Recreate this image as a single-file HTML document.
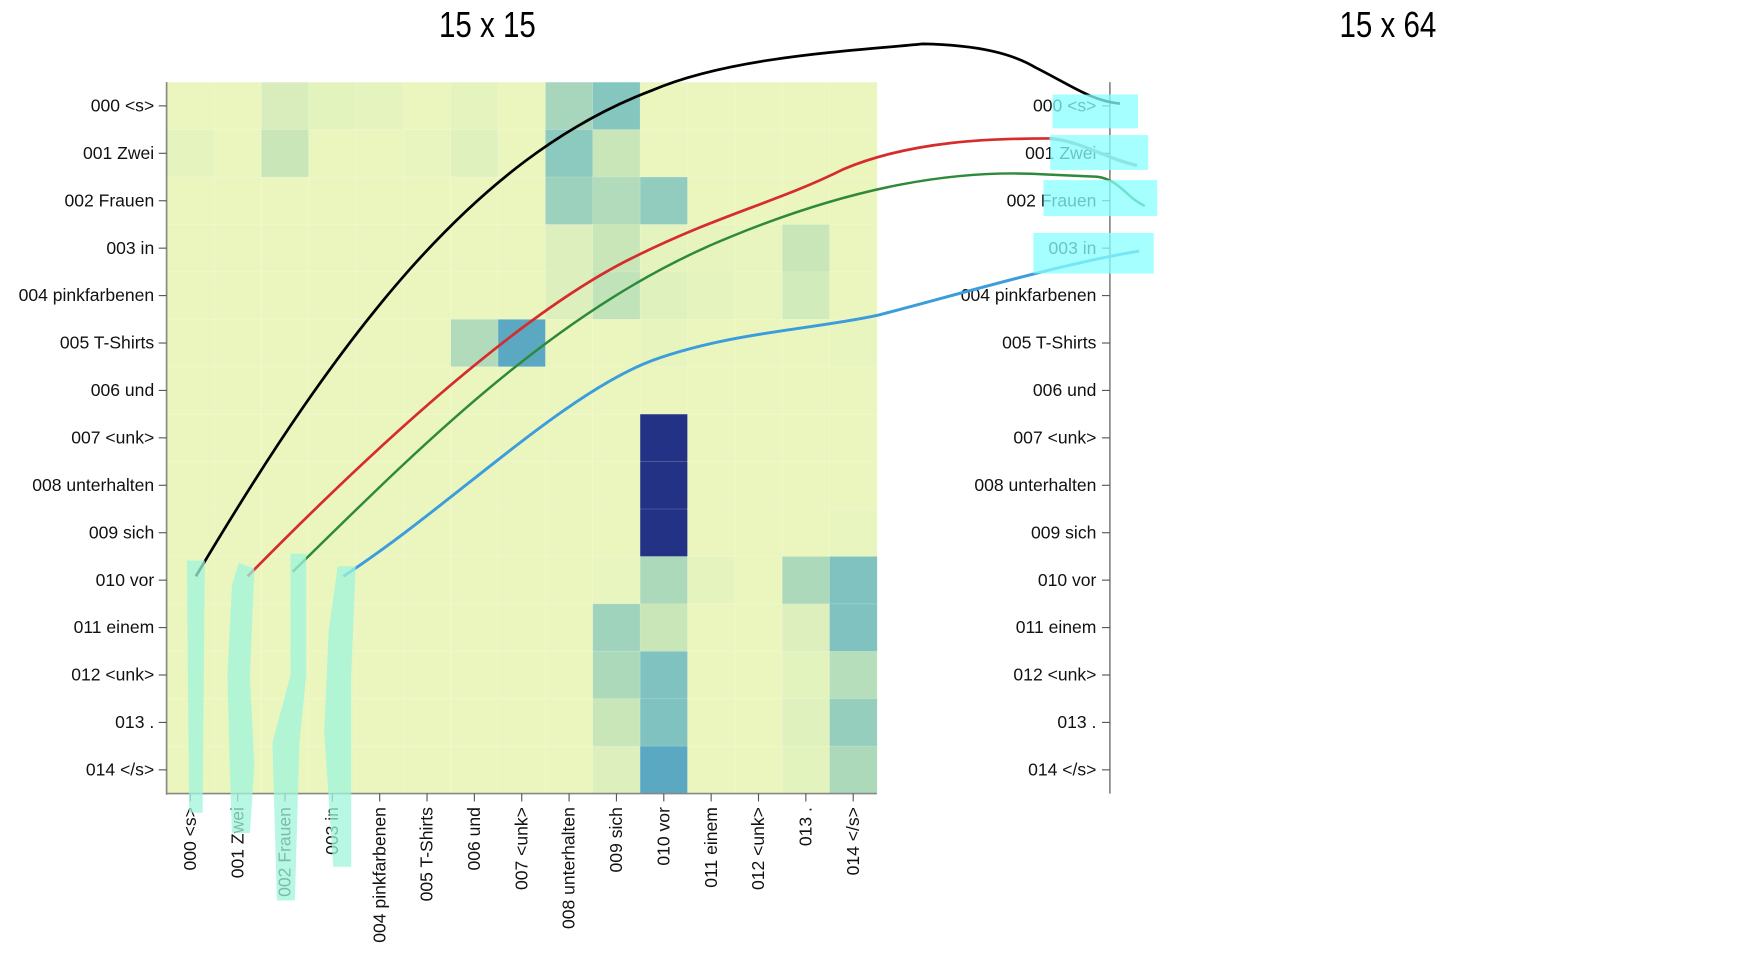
<!DOCTYPE html>
<html><head><meta charset="utf-8"><style>
html,body{margin:0;padding:0;background:#fff}
svg{display:block}
text{font-family:"Liberation Sans",sans-serif;font-size:15.6px;fill:#111}
.title{font-size:32px;fill:#000}
</style></head><body>
<svg id="chart" width="1756" height="956" viewBox="0 0 1560 849.3" xmlns="http://www.w3.org/2000/svg">
<text class="title" x="433" y="33" text-anchor="middle" transform="translate(433 0) scale(0.82 1) translate(-433 0)">15 x 15</text>
<text class="title" x="1233" y="33" text-anchor="middle" transform="translate(1233 0) scale(0.82 1) translate(-1233 0)">15 x 64</text>
<g id="cells"></g>
<g id="axes"></g>
<g id="curves">
<path d="M174,512 C300,300 420,140 580,80 C650,50 760,45 820,39 C870,40 900,48 920,60 C950,75 970,90 995,92" fill="none" stroke="#000" stroke-width="2.4"/>
<path d="M220,512 C330,400 460,280 560,230 C640,190 690,180 750,150 C810,125 880,123 932,123" fill="none" stroke="#d62c2c" stroke-width="2.4"/>
<path d="M932,123 C960,125 980,140 1010,147" fill="none" stroke="#999" stroke-width="3"/>
<path d="M260,508 C380,390 500,270 650,210 C760,165 850,150 930,155 L975,157 C995,160 1000,175 1017,183" fill="none" stroke="#2e8a3a" stroke-width="2.2"/>
<path d="M305,512 C400,450 500,350 580,320 C650,295 720,293 780,280 C850,262 940,235 1012,223" fill="none" stroke="#3b9ddb" stroke-width="2.6"/>
</g>
<g id="highlights" opacity="0.75">
<rect x="935" y="84" width="76" height="30" fill="#8ff"/>
<rect x="933" y="120" width="87" height="31" fill="#8ff"/>
<rect x="927" y="160" width="101" height="32" fill="#8ff"/>
<rect x="918" y="207" width="107" height="36" fill="#8ff"/>
<path d="M166,498 L182,498 L180,722 L168,722 Z" fill="#9ff5dc"/>
<path d="M212,500 L226,505 L222,600 L226,680 L222,740 L206,740 L204,680 L202,600 L206,520 Z" fill="#9ff5dc"/>
<path d="M258,492 L272,492 L272,600 L266,660 L262,800 L246,800 L242,660 L258,600 Z" fill="#9ff5dc"/>
<path d="M300,503 L316,503 L312,600 L312,770 L296,770 L288,650 L292,560 Z" fill="#9ff5dc"/>
</g>
</svg>
<script>
const labels=["000 <s>","001 Zwei","002 Frauen","003 in","004 pinkfarbenen","005 T-Shirts","006 und","007 <unk>","008 unterhalten","009 sich","010 vor","011 einem","012 <unk>","013 .","014 </s>"];
const row0=[.02,.02,.12,.06,.05,.02,.05,.02,.3,.4,.02,.02,.02,.02,.02];
const row1=[.05,.02,.2,.02,.02,.03,.08,.02,.38,.2,.02,.02,.02,.02,.02];
const row2=[.02,.02,.02,.02,.02,.02,.02,.02,.33,.27,.36,.02,.02,.02,.02];
const row3=[.02,.02,.02,.02,.02,.02,.02,.02,.1,.2,.05,.04,.03,.2,.02];
const row4=[.02,.02,.02,.02,.02,.02,.02,.02,.1,.22,.08,.05,.03,.15,.02];
const row5=[.02,.02,.02,.02,.02,.02,.27,.55,.02,.02,.04,.02,.02,.02,.03];
const row6=[.02,.02,.02,.02,.02,.02,.02,.02,.02,.02,.02,.02,.02,.02,.02];
const row7=[.02,.02,.02,.02,.02,.02,.02,.02,.02,.02,1,.02,.02,.02,.02];
const row8=[.02,.02,.02,.02,.02,.02,.02,.02,.02,.02,1,.02,.02,.02,.02];
const row9=[.02,.02,.02,.02,.02,.02,.02,.02,.02,.02,1,.02,.02,.02,.03];
const row10=[.02,.02,.02,.02,.02,.02,.02,.02,.02,.03,.28,.05,.02,.28,.42];
const row11=[.02,.02,.02,.02,.02,.02,.02,.02,.02,.32,.2,.02,.02,.1,.42];
const row12=[.02,.02,.02,.02,.02,.02,.02,.02,.02,.28,.42,.02,.02,.06,.25];
const row13=[.02,.02,.02,.02,.02,.02,.02,.02,.02,.2,.42,.02,.02,.08,.35];
const row14=[.02,.02,.02,.02,.02,.02,.02,.02,.02,.1,.55,.02,.02,.06,.28];
const matrix=[row0,row1,row2,row3,row4,row5,row6,row7,row8,row9,row10,row11,row12,row13,row14];

const NS="http://www.w3.org/2000/svg";
const L=148,R=779,T=73,B=705,RX=986;
const cw=(R-L)/15,ch=(B-T)/15;
const xs=i=>L+i*cw, ys=i=>T+i*ch;
const stops=[[0,[239,248,192]],[.2,[200,230,184]],[.4,[133,198,191]],[.55,[90,168,194]],[1,[36,50,134]]];
function color(v){v=Math.max(0,Math.min(1,v));for(let k=1;k<stops.length;k++){if(v<=stops[k][0]){const a=stops[k-1],b=stops[k],t=(v-a[0])/(b[0]-a[0]);return 'rgb('+a[1].map((c,j)=>Math.round(c+(b[1][j]-c)*t)).join(',')+')';}}return 'rgb(36,50,134)';}
function mk(tag,attrs,parent){const e=document.createElementNS(NS,tag);for(const k in attrs)e.setAttribute(k,attrs[k]);parent.appendChild(e);return e;}
const cells=document.getElementById('cells');
matrix.forEach((row,r)=>row.forEach((v,c)=>{
  const el=mk('rect',{x:xs(c),y:ys(r),width:cw+0.3,height:ch+0.3,fill:color(v),stroke:'rgba(255,255,255,0.25)','stroke-width':0.6},cells);
  
  
}));
const ax=document.getElementById('axes');
const l1=mk('line',{x1:L,y1:T,x2:L,y2:B+1,stroke:'#888','stroke-width':1.5},ax);


const l2=mk('line',{x1:L,y1:B,x2:R,y2:B,stroke:'#888','stroke-width':1.5},ax);


const l3=mk('line',{x1:RX,y1:T,x2:RX,y2:B,stroke:'#888','stroke-width':1.5},ax);


labels.forEach((lab,i)=>{
  const y=ys(i)+ch/2, x=xs(i)+cw/2;
  mk('line',{x1:L-7,y1:y,x2:L,y2:y,stroke:'#555'},ax);
  const t=mk('text',{x:L-11,y:y+5,'text-anchor':'end'},ax);t.textContent=lab;
  
  
  mk('line',{x1:RX-7,y1:y,x2:RX,y2:y,stroke:'#555'},ax);
  const t2=mk('text',{x:RX-12,y:y+5,'text-anchor':'end'},ax);t2.textContent=lab;
  
  
  mk('line',{x1:x,y1:B,x2:x,y2:B+7,stroke:'#555'},ax);
  const t3=mk('text',{x:x+5,y:B+12,'text-anchor':'end',transform:`rotate(-90 ${x+5} ${B+12})`},ax);t3.textContent=lab;
  
  
});
</script>
</body></html>
